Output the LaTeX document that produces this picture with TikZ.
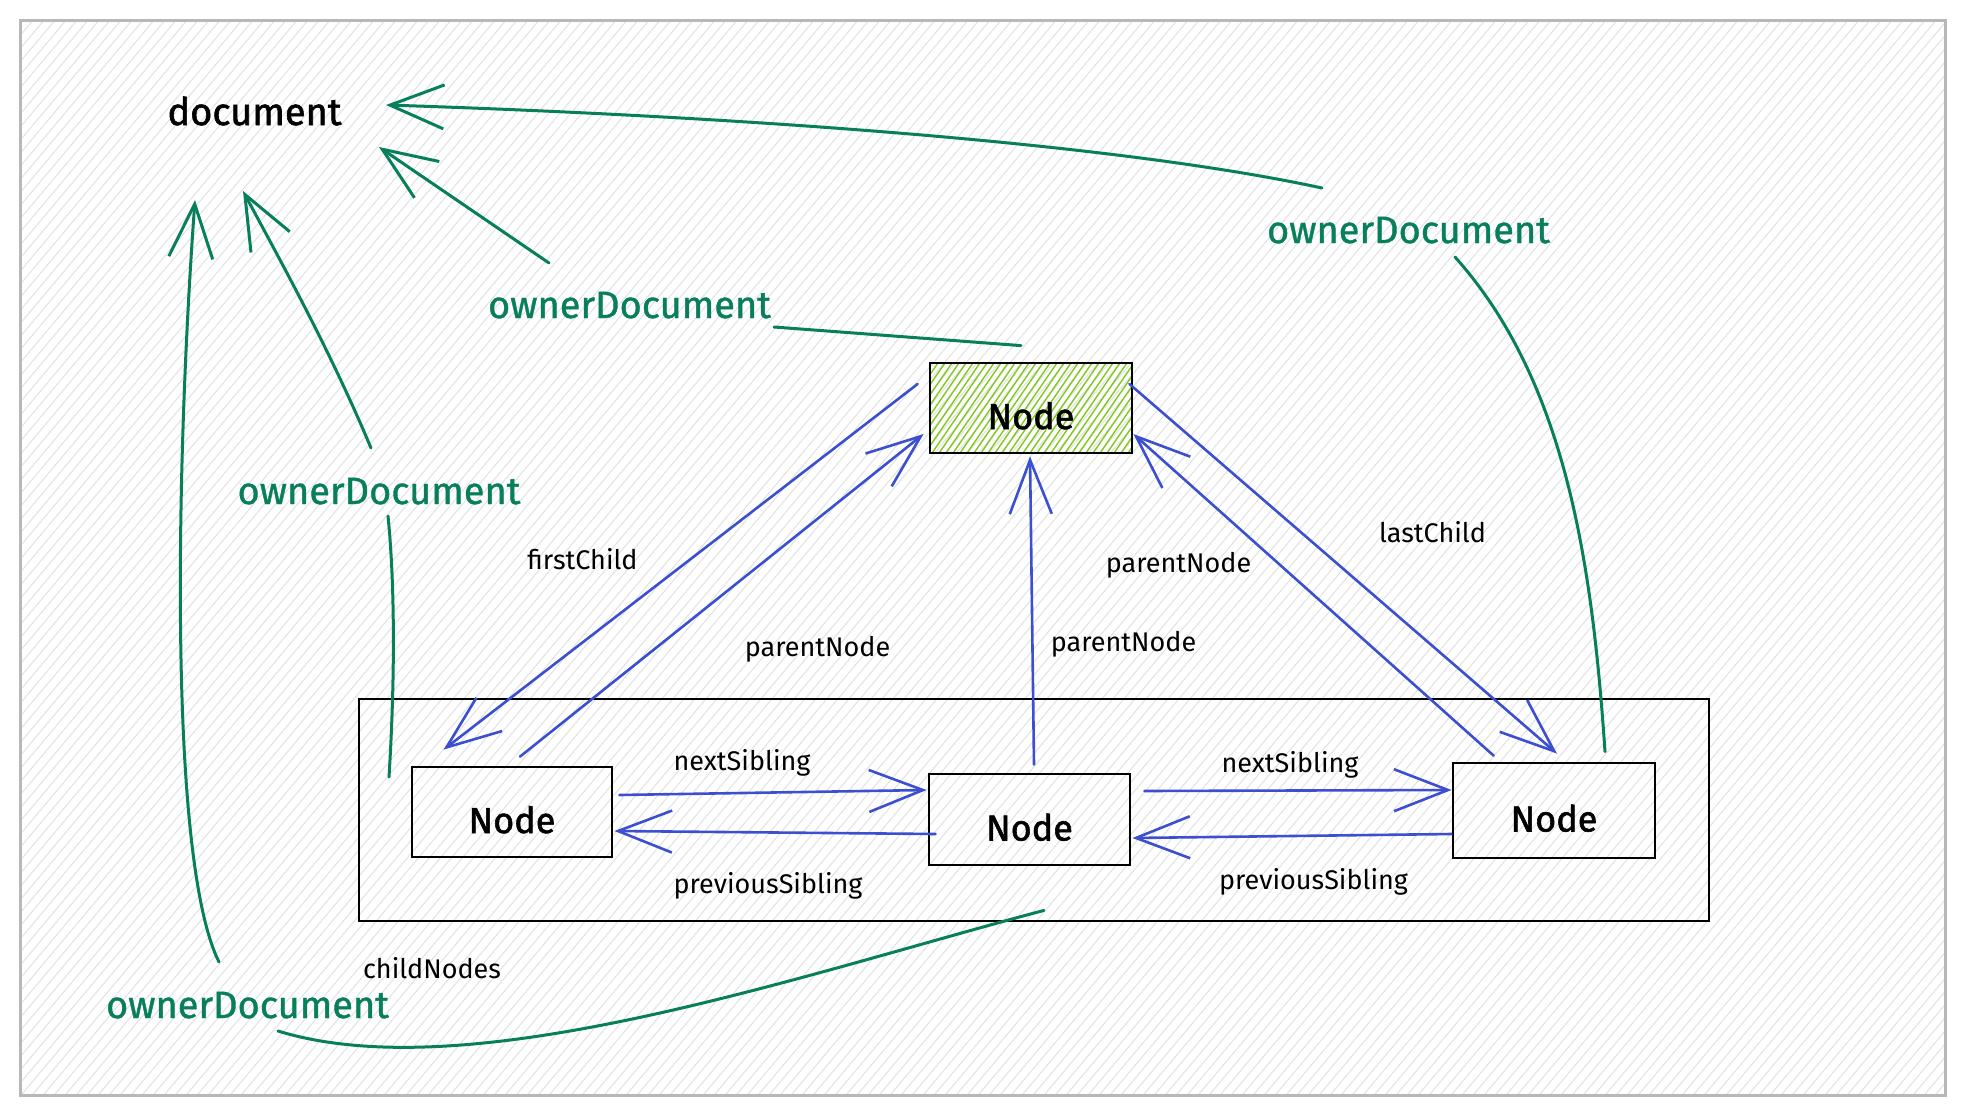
\documentclass[tikz,border=0pt]{standalone}
\usepackage{fontspec}
\setmainfont{Fira Sans}
\newfontfamily\boldish[FakeBold=1.6]{Fira Sans}
\newfontfamily\semibold[FakeBold=1.0]{Fira Sans}
\usetikzlibrary{arrows.meta,calc}
\definecolor{bl}{HTML}{3B4FD0}
\definecolor{gr}{HTML}{087F5B}
\definecolor{limeg}{HTML}{82C91E}
\definecolor{hatchc}{HTML}{E2E2E2}
\definecolor{framec}{HTML}{B8B8B8}
\tikzset{
  nodebox/.style={draw=black, line width=2.8pt, inner sep=0pt, font=\boldish\fontsize{36}{40}\selectfont, text height=42pt, text depth=0pt},
  glabel/.style={text=gr, font=\semibold\fontsize{38}{44}\selectfont, inner sep=0pt, anchor=base},
  klabel/.style={text=black, font=\fontsize{27}{32}\selectfont, inner sep=0pt, anchor=base},
  barrow/.style={draw=bl, line width=2.6pt, line cap=round, line join=round, -{Straight Barb[length=54pt,width=42pt]}},
  garrow/.style={draw=gr, line width=3pt, line cap=round, line join=round, -{Straight Barb[length=54pt,width=44pt]}},
  gline/.style={draw=gr, line width=3pt, line cap=round},
  hatchline/.style={draw=hatchc, line width=1pt},
}
\begin{document}
\begin{tikzpicture}[x=1pt,y=-1pt]
\useasboundingbox (0,0) rectangle (1966,1114);
\fill[white] (0,0) rectangle (1966,1114);
% background hatch
\begin{scope}
  \clip (20,20) rectangle (1945,1095);
  \foreach \x in {-940,-929,...,1960} \draw[hatchline] (\x,1100) -- ++(924,-1100);
\end{scope}
\draw[framec, line width=3pt] (20,20) rectangle (1945,1095);
% green hatch of the top node
\begin{scope}
  \clip (930,363) rectangle (1132,453);
  \foreach \x in {860,867,...,1140} \draw[limeg, line width=1.4pt] (\x,456) -- ++(66,-96);
\end{scope}
% container
\node[draw=black, line width=2.8pt, minimum width=1350pt, minimum height=222pt, inner sep=0pt] (box) at (1034,810) {};
% nodes
\node[nodebox, minimum width=202pt, minimum height=90pt] (top) at (1031,408) {Node};
\node[nodebox, minimum width=200pt, minimum height=90pt] (n1) at (512,812) {Node};
\node[nodebox, minimum width=201pt, minimum height=91pt] (n2) at (1029.5,819.5) {Node};
\node[nodebox, minimum width=202pt, minimum height=95pt] (n3) at (1554,810.5) {Node};
% texts
\node[inner sep=0pt, anchor=base, font=\boldish\fontsize{38}{44}\selectfont] (doc) at (254.5,125) {document};
\node[glabel] (od1) at (629.5,318) {ownerDocument};
\node[glabel] (od2) at (1408.5,243) {ownerDocument};
\node[glabel] (od3) at (379,504) {ownerDocument};
\node[glabel] (od4) at (247.5,1018) {ownerDocument};
\node[klabel] (lcn) at (432,978) {childNodes};
\node[klabel] (lfc) at (582.5,569) {firstChild};
\node[klabel] (lpn1) at (817.5,656) {parentNode};
\node[klabel] (lpn2) at (1123.5,651) {parentNode};
\node[klabel] (lpn3) at (1178.5,572) {parentNode};
\node[klabel] (llc) at (1432.5,542) {lastChild};
\node[klabel] (lns1) at (742,770) {nextSibling};
\node[klabel] (lps1) at (768,893) {previousSibling};
\node[klabel] (lns2) at (1290,772) {nextSibling};
\node[klabel] (lps2) at (1313.5,889) {previousSibling};
% blue connectors
\draw[barrow] ($(top.west)+(-11,-24)$) -- ($(n1.north west)+(33,-16)$);
\draw[barrow] ($(n1.north)+(8,-9)$) -- ($(top.west)+(-5,26)$);
\draw[barrow] ($(n2.north)+(4.5,-8)$) -- ($(top.south)+(-1,2)$);
\draw[barrow] ($(n3.north west)+(42,-6)$) -- ($(top.east)+(0,26)$);
\draw[barrow] ($(top.east)+(-4,-24)$) -- ($(n3.north)+(3,-8)$);
\draw[barrow] ($(n1.east)+(6,-17)$) -- ($(n2.west)+(-1,-29.5)$);
\draw[barrow] ($(n2.west)+(8,14.5)$) -- ($(n1.east)+(1,19)$);
\draw[barrow] ($(n2.east)+(13,-28.5)$) -- ($(n3.west)+(0,-20.5)$);
\draw[barrow] ($(n3.west)+(0,23.5)$) -- ($(n2.east)+(1,18.5)$);
% green connector ends
\coordinate (tipA) at (386,105);
\coordinate (tipB) at (379,147);
\coordinate (tipC) at (243,191);
\coordinate (tipD) at (195,200);
\coordinate (od2s) at (1322,188);
\coordinate (od2e) at (1455,257);
\coordinate (od1s) at (549,263);
\coordinate (od1e) at (774,327);
\coordinate (od3s) at (371,448);
\coordinate (od3e) at (388,516);
\coordinate (od4s) at (219,962);
\coordinate (od4e) at (278,1031);
\coordinate (n1g) at (389,777);
% green connectors
\draw[garrow] (od2s) .. controls (1100,140) and (700,115) .. (tipA);
\draw[gline] ($(n3.north)+(51,-10)$) .. controls (1592,560) and (1565,380) .. (od2e);
\draw[gline] ($(top.north)+(-10,-16)$) -- (od1e);
\draw[garrow] (od1s) -- (tipB);
\draw[garrow] (od3s) .. controls (330,350) and (280,260) .. (tipC);
\draw[gline] (n1g) .. controls (395,680) and (395,585) .. (od3e);
\draw[garrow] (od4s) .. controls (168,860) and (176,460) .. (tipD);
\draw[gline] ($(box.south)+(10,-12)$) .. controls (800,975) and (470,1090) .. (od4e);
\end{tikzpicture}
\end{document}
